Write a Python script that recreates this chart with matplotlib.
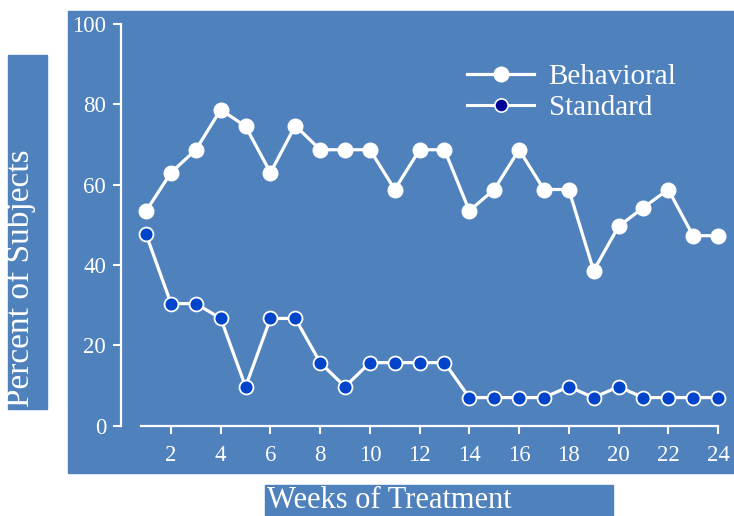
import matplotlib.pyplot as plt
from matplotlib.patches import Rectangle

W, H = 734, 516

weeks = list(range(1, 25))
behavioral = [53.5, 63, 68.7, 78.7, 74.5, 63, 74.7, 68.7, 68.7, 68.7, 58.8, 68.7,
              68.7, 53.5, 58.8, 68.7, 58.8, 58.8, 38.6, 49.6, 54.3, 58.8, 47.3, 47.3]
standard = [47.6, 30.4, 30.4, 26.7, 9.7, 26.7, 26.7, 15.7, 9.7, 15.7, 15.7, 15.7,
            15.7, 7, 7, 7, 7, 9.7, 7, 9.7, 7, 7, 7, 7]
x_ticks = list(range(2, 25, 2))
y_ticks = [0, 20, 40, 60, 80, 100]

panel = '#4F81BD'
font = ['Liberation Serif', 'DejaVu Serif']
plt.rcParams['font.family'] = font


def px(x, y):
    # pixel position (top-left origin) -> figure fraction
    return x / W, 1 - y / H


fig = plt.figure(figsize=(W / 100, H / 100), dpi=100, facecolor='white')

# blue background boxes
for (x0, y0, x1, y1) in [(68, 11, 734, 473), (8, 55, 47, 409), (265, 485, 613, 516)]:
    fig.patches.append(Rectangle(px(x0, y1), (x1 - x0) / W, (y1 - y0) / H,
                                 transform=fig.transFigure, color=panel, zorder=-5))

left, bottom = px(121.3, 425.7)
_, top = px(0, 24)
ax = fig.add_axes([left, bottom, 24.5 * 24.86 / W, top - bottom])
ax.set_facecolor('none')
ax.set_xlim(0, 24.5)
ax.set_ylim(0, 100)

ax.plot(weeks, behavioral, color='white', lw=2.3, marker='o', ms=10.5,
        mfc='white', mec='white', mew=1, label='Behavioral', clip_on=False, zorder=3)
ax.plot(weeks, standard, color='white', lw=2.3, marker='o', ms=10,
        mfc='#0044CC', mec='white', mew=1.3, label='_nolegend_', clip_on=False, zorder=3)
# legend entry for Standard uses a darker navy marker
ax.plot([], [], color='white', lw=2.2, marker='o', ms=9.5, mfc='#000099',
        mec='white', mew=1.2, label='Standard')

for s in ['top', 'right']:
    ax.spines[s].set_visible(False)
ax.spines['left'].set_bounds(0, 100)
ax.spines['bottom'].set_bounds(0.8, 24)
for s in ['left', 'bottom']:
    ax.spines[s].set_color('white')
    ax.spines[s].set_linewidth(1.6)

ax.set_xticks(x_ticks)
ax.set_yticks(y_ticks)
ax.tick_params(axis='y', colors='white', length=6, width=1.5, pad=5, labelsize=16.5)
ax.tick_params(axis='x', colors='white', length=6, width=1.5, pad=8, labelsize=16.5)

leg = ax.legend(loc='upper left', bbox_to_anchor=px(467, 64), bbox_transform=fig.transFigure,
                frameon=False, fontsize=21, handlelength=2.3, handletextpad=0.5,
                labelspacing=0.15, borderpad=0, borderaxespad=0)
for t in leg.get_texts():
    t.set_color('white')

x, y = px(20.5, 407)
fig.text(x, y, 'Percent of Subjects', rotation=90, ha='center', va='bottom',
         color='white', fontsize=24)
x, y = px(267, 515)
fig.text(x, y, 'Weeks of Treatment', ha='left', va='bottom', color='white', fontsize=22)

fig.savefig('out.png', dpi=100, facecolor='white')
